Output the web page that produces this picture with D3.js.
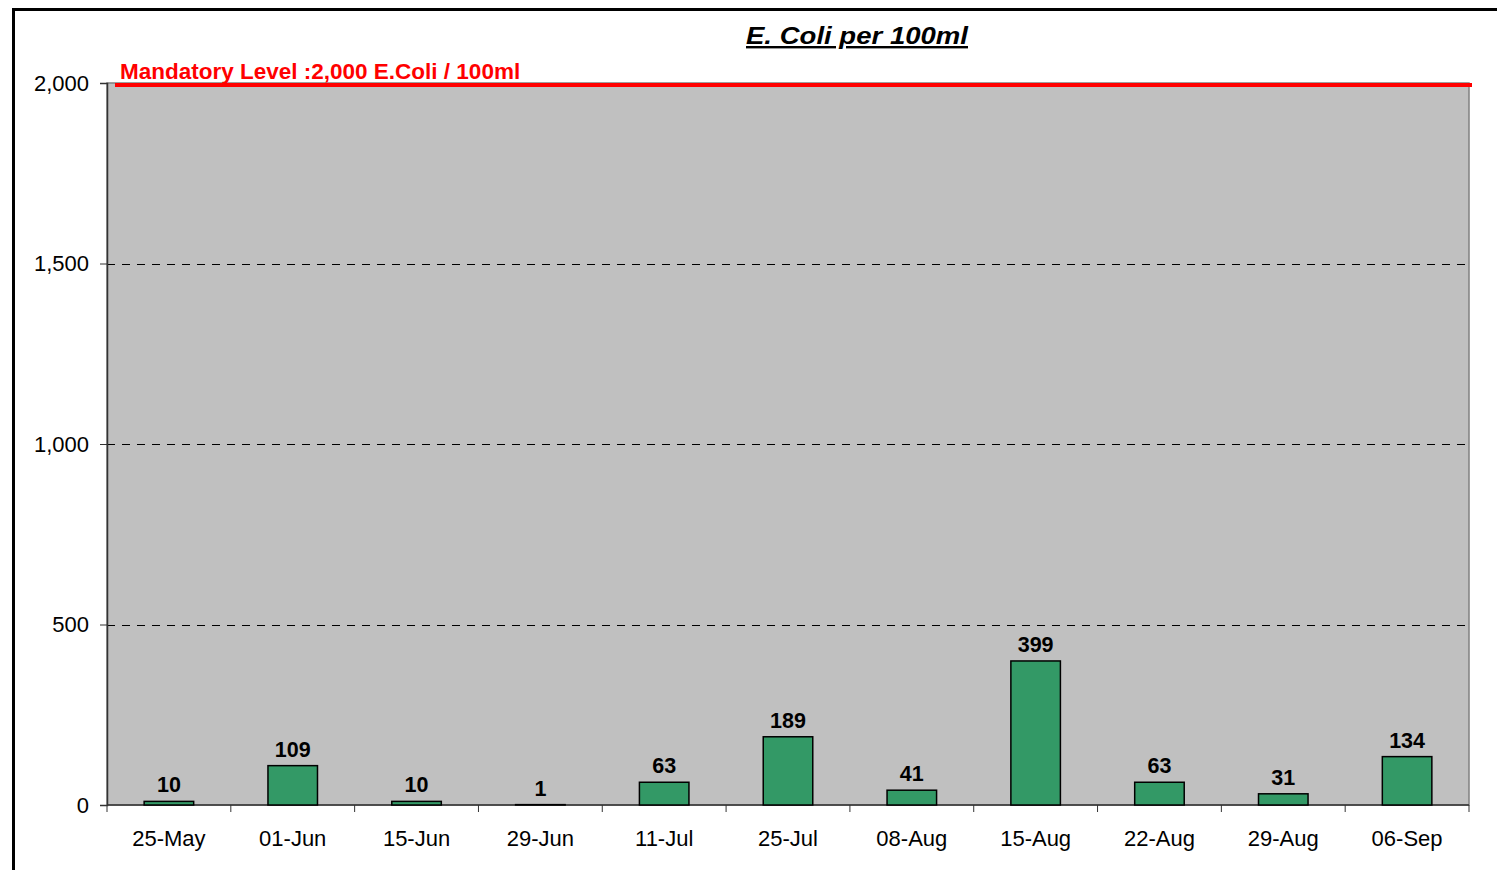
<!DOCTYPE html>
<html>
<head>
<meta charset="utf-8">
<script src="https://cdn.jsdelivr.net/npm/d3@7"></script>
<style>
  body { margin: 0; background: #fff; }
  svg text { font-family: "Liberation Sans", Arial, sans-serif; }
</style>
</head>
<body>
<div id="chart"></div>
<script>
const width = 1497;
const height = 870;
const margin = {'top': 83, 'bottom': 65, 'left': 107, 'right': 28};

// data
const dates = ['25-May', '01-Jun', '15-Jun', '29-Jun', '11-Jul', '25-Jul', '08-Aug', '15-Aug', '22-Aug', '29-Aug', '06-Sep'];
const ecoli = [10, 109, 10, 1, 63, 189, 41, 399, 63, 31, 134];
const yTicks = [0, 500, 1000, 1500, 2000];
const mandatoryLevel = 2000;
const mandatoryLabel = 'Mandatory Level :2,000 E.Coli / 100ml';
const title = 'E. Coli per 100ml';

const svg = d3.select('#chart')
  .append('svg')
  .attr('width', width)
  .attr('height', height);

// outer frame (runs off the page at right and bottom)
svg.append('rect')
  .attr('x', 13.5).attr('y', 9.5)
  .attr('width', 1600).attr('height', 1000)
  .attr('fill', 'none')
  .attr('stroke', '#000')
  .attr('stroke-width', 3);

const x = d3.scaleBand()
  .domain(dates)
  .range([margin.left, width - margin.right])
  .padding(0);

const y = d3.scaleLinear()
  .domain([0, 2000])
  .range([height - margin.bottom, margin.top]);

// plot area
svg.append('rect')
  .attr('x', margin.left)
  .attr('y', y(2000))
  .attr('width', x.range()[1] - margin.left)
  .attr('height', y(0) - y(2000))
  .attr('fill', '#c0c0c0')
  .attr('stroke', '#808080')
  .attr('stroke-width', 1.5);

// dashed grid
svg.append('g')
  .selectAll('line')
  .data(yTicks.filter(d => d > 0 && d < 2000))
  .join('line')
  .attr('x1', margin.left).attr('x2', x.range()[1])
  .attr('y1', d => Math.round(y(d)) + 0.5).attr('y2', d => Math.round(y(d)) + 0.5)
  .attr('stroke', '#000')
  .attr('stroke-width', 1)
  .attr('stroke-dasharray', '8,7');

// y axis
const yAxis = svg.append('g')
  .attr('transform', 'translate(' + margin.left + ',0)')
  .call(d3.axisLeft(y).tickValues(yTicks).tickSize(7).tickPadding(11).tickFormat(d3.format(',')));
yAxis.select('.domain').attr('stroke', '#333').attr('stroke-width', 1.5);
yAxis.selectAll('.tick line').attr('stroke', '#333');
yAxis.selectAll('.tick text')
  .attr('font-size', 22)
  .attr('fill', '#000')
  .style('font-family', '"Liberation Sans", Arial, sans-serif');

// x axis with ticks between categories
const xAxisG = svg.append('g')
  .attr('transform', 'translate(0,' + y(0) + ')');
xAxisG.append('line')
  .attr('x1', margin.left).attr('x2', x.range()[1])
  .attr('stroke', '#333').attr('stroke-width', 1.5);
const bounds = dates.map(d => x(d)).concat([x.range()[1]]);
xAxisG.selectAll('.xtick')
  .data(bounds)
  .join('line')
  .attr('class', 'xtick')
  .attr('x1', d => d).attr('x2', d => d)
  .attr('y1', 0).attr('y2', 7)
  .attr('stroke', '#333');
xAxisG.selectAll('.xlabel')
  .data(dates)
  .join('text')
  .attr('class', 'xlabel')
  .attr('x', d => x(d) + x.bandwidth() / 2)
  .attr('y', 41)
  .attr('text-anchor', 'middle')
  .attr('font-size', 22)
  .text(d => d);

// bars
const barW = x.bandwidth() * 0.4;
svg.append('g')
  .selectAll('rect')
  .data(ecoli)
  .join('rect')
  .attr('x', (d, i) => x(dates[i]) + x.bandwidth() / 2 - barW / 2)
  .attr('y', d => y(d))
  .attr('width', barW)
  .attr('height', d => y(0) - y(d))
  .attr('fill', '#339966')
  .attr('stroke', '#000')
  .attr('stroke-width', 1.5);

// value labels
svg.append('g')
  .selectAll('text')
  .data(ecoli)
  .join('text')
  .attr('x', (d, i) => x(dates[i]) + x.bandwidth() / 2)
  .attr('y', d => y(d) - 9)
  .attr('text-anchor', 'middle')
  .attr('font-size', 21.5)
  .attr('font-weight', 'bold')
  .text(d => d);

// mandatory level line
svg.append('line')
  .attr('x1', 115).attr('x2', x.range()[1] + 3)
  .attr('y1', y(mandatoryLevel) + 2).attr('y2', y(mandatoryLevel) + 2)
  .attr('stroke', '#ff0000')
  .attr('stroke-width', 4);

svg.append('text')
  .attr('x', 120)
  .attr('y', y(mandatoryLevel) - 4)
  .attr('font-size', 22.5)
  .attr('font-weight', 'bold')
  .attr('fill', '#ff0000')
  .text(mandatoryLabel);

// title
svg.append('text')
  .attr('x', 857)
  .attr('y', 44)
  .attr('text-anchor', 'middle')
  .attr('font-size', 24)
  .attr('font-weight', 'bold')
  .attr('font-style', 'italic')
  .attr('text-decoration', 'underline')
  .attr('textLength', 222)
  .attr('lengthAdjust', 'spacingAndGlyphs')
  .text(title);
</script>
</body>
</html>
